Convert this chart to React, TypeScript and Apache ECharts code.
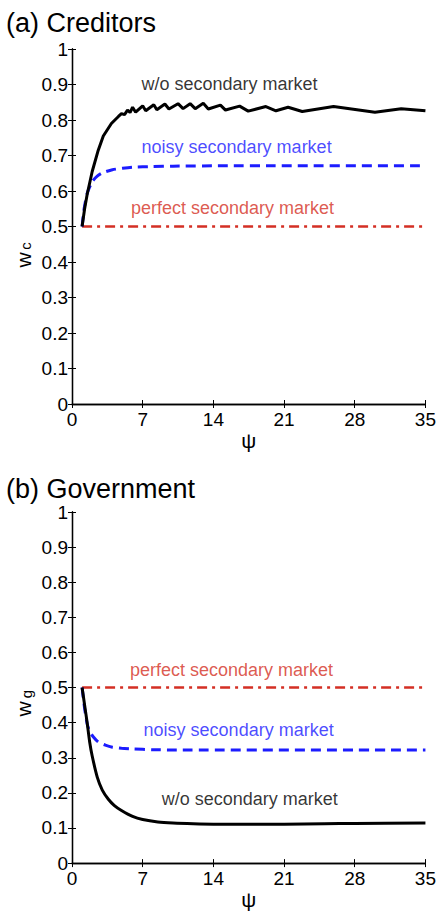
import React, { useEffect, useRef } from "react";
import * as echarts from "echarts";

// ---------- data ----------
const xTicks = [0, 7, 14, 21, 28, 35];

// Panel (a) Creditors
const credWithout: [number, number][] = [
  [1, 0.5], [1.25, 0.55], [1.5, 0.59], [2, 0.655], [2.6, 0.715], [3.1, 0.755],
  [3.9, 0.79], [4.6, 0.81], [4.9, 0.818], [5.2, 0.815], [5.5, 0.828], [5.75, 0.821],
  [6.0, 0.836], [6.3, 0.822], [7.0, 0.84], [7.3, 0.826], [8.1, 0.843], [8.4, 0.829],
  [9.2, 0.845], [9.6, 0.831], [10.5, 0.846], [11.0, 0.832], [11.7, 0.846], [12.2, 0.832],
  [13.0, 0.847], [13.5, 0.831], [14.7, 0.842], [15.2, 0.828], [16.6, 0.839], [17.45, 0.825],
  [19.2, 0.838], [20.2, 0.826], [21.4, 0.836], [22.8, 0.824], [25.9, 0.838], [30.0, 0.822],
  [32.6, 0.832], [35, 0.826],
];
const credNoisy: [number, number][] = [
  [1, 0.5], [1.2, 0.55], [1.5, 0.593], [2, 0.626], [2.5, 0.642], [3, 0.651], [4, 0.66],
  [5, 0.664], [6, 0.667], [8, 0.669], [10, 0.67], [15, 0.671], [20, 0.671], [35, 0.671],
];
const credPerfect: [number, number][] = [[1, 0.5], [35, 0.5]];

// Panel (b) Government
const govWithout: [number, number][] = [
  [1, 0.5], [1.25, 0.45], [1.5, 0.4], [1.75, 0.345], [2, 0.305], [2.5, 0.245], [3, 0.208],
  [3.6, 0.182], [4.2, 0.164], [4.9, 0.15], [6, 0.133], [7, 0.124], [8.5, 0.117],
  [10, 0.114], [12, 0.112], [14, 0.111], [17, 0.111], [21, 0.111], [25, 0.112],
  [28, 0.113], [35, 0.114],
];
const govNoisy: [number, number][] = [
  [1, 0.5], [1.25, 0.44], [1.5, 0.397], [1.75, 0.375], [2.1, 0.36], [2.6, 0.345],
  [3.3, 0.336], [4, 0.33], [4.9, 0.327], [6, 0.325], [8, 0.323], [10, 0.322], [35, 0.322],
];
const govPerfect: [number, number][] = [[1, 0.5], [35, 0.5]];

// annotations: [x, y, text]
const credNotes: [number, number, string][] = [
  [15.6, 0.901, "w/o secondary market"],
  [16.3, 0.724, "noisy secondary market"],
  [15.9, 0.552, "perfect secondary market"],
];
const govNotes: [number, number, string][] = [
  [15.8, 0.551, "perfect secondary market"],
  [16.5, 0.379, "noisy secondary market"],
  [17.6, 0.183, "w/o secondary market"],
];

const FONT = "'Liberation Sans', Arial, Helvetica, sans-serif";
const BLACK = "#000000";
const BLUE = "#1c1cff";
const RED = "#d42f24";

function axesFor(grid: number) {
  const tick = { show: true, inside: true, length: 4, lineStyle: { color: BLACK, width: 1 } };
  const line = { show: true, lineStyle: { color: BLACK, width: 1.3 } };
  const xs = [
    {
      type: "value", gridIndex: grid, position: "bottom", min: xTicks[0], max: xTicks[xTicks.length - 1], interval: 7,
      axisLine: line, axisTick: tick, splitLine: { show: false },
      axisLabel: { show: true, margin: 6, color: BLACK, fontSize: 19, fontFamily: FONT },
      name: "ψ", nameLocation: "middle", nameGap: 25,
      nameTextStyle: { color: BLACK, fontSize: 21, fontFamily: FONT },
    },
    {
      type: "value", gridIndex: grid, position: "top", min: xTicks[0], max: xTicks[xTicks.length - 1], interval: 7,
      axisLine: line, axisTick: tick, splitLine: { show: false }, axisLabel: { show: false },
    },
  ];
  const ys = [
    {
      type: "value", gridIndex: grid, position: "left", min: 0, max: 1, interval: 0.1,
      axisLine: line, axisTick: tick, splitLine: { show: false },
      axisLabel: {
        show: true, margin: 4, color: BLACK, fontSize: 19, fontFamily: FONT,
        formatter: (v: number) => String(Math.round(v * 10) / 10),
      },
    },
    {
      type: "value", gridIndex: grid, position: "right", min: 0, max: 1, interval: 0.1,
      axisLine: line, axisTick: tick, splitLine: { show: false }, axisLabel: { show: false },
    },
  ];
  return { xs, ys };
}

function lineSeries(data: [number, number][], ax: number, color: string, width: number, type: any, smooth: any = false) {
  return {
    type: "line", xAxisIndex: ax, yAxisIndex: ax, data, showSymbol: false, symbol: "none",
    smooth, lineStyle: { color, width, type }, z: 3,
  };
}

function noteSeries(notes: [number, number, string][], ax: number, colors: string[]) {
  return {
    type: "scatter", xAxisIndex: ax, yAxisIndex: ax, symbolSize: 0, silent: true,
    data: notes.map((n, i) => ({
      value: [n[0], n[1]],
      label: {
        show: true, position: "inside", formatter: n[2], color: colors[i],
        fontSize: 18, fontFamily: FONT,
      },
    })),
  };
}

export default function App() {
  const ref = useRef<HTMLDivElement>(null);
  useEffect(() => {
    if (!ref.current) return;
    const chart = echarts.init(ref.current, null, { renderer: "svg" });
    const a = axesFor(0);
    const b = axesFor(1);
    const option: any = {
      animation: false,
      backgroundColor: "#ffffff",
      grid: [
        { left: 72, top: 49, width: 357, height: 355, containLabel: false },
        { left: 72, top: 512, width: 357, height: 356, containLabel: false },
      ],
      xAxis: [...a.xs, ...b.xs],
      yAxis: [...a.ys, ...b.ys],
      series: [
        lineSeries(credPerfect, 0, RED, 2.5, [10, 5, 3, 5]),
        lineSeries(credNoisy, 0, BLUE, 3, [10, 6], 0.2),
        lineSeries(credWithout, 0, BLACK, 3, "solid"),
        noteSeries(credNotes, 0, [BLACK, BLUE, RED]),
        lineSeries(govPerfect, 2, RED, 2.5, [10, 5, 3, 5]),
        lineSeries(govNoisy, 2, BLUE, 3, [10, 6], 0.2),
        lineSeries(govWithout, 2, BLACK, 3, "solid", 0.3),
        noteSeries(govNotes, 2, [RED, BLUE, BLACK]),
      ],
      graphic: [
        { type: "text", left: 6, top: 9, style: { text: "(a) Creditors", fontSize: 27, fontFamily: FONT, fill: BLACK } },
        { type: "text", left: 6, top: 475, style: { text: "(b) Government", fontSize: 27, fontFamily: FONT, fill: BLACK } },
        { type: "text", x: 23, y: 260, rotation: Math.PI / 2, style: { text: "w", fontSize: 21, fontFamily: FONT, fill: BLACK, align: "center", verticalAlign: "middle" } },
        { type: "text", x: 25, y: 246, rotation: Math.PI / 2, style: { text: "c", fontSize: 15, fontFamily: FONT, fill: BLACK, align: "center", verticalAlign: "middle" } },
        { type: "text", x: 23, y: 709, rotation: Math.PI / 2, style: { text: "w", fontSize: 21, fontFamily: FONT, fill: BLACK, align: "center", verticalAlign: "middle" } },
        { type: "text", x: 26, y: 694, rotation: Math.PI / 2, style: { text: "g", fontSize: 15, fontFamily: FONT, fill: BLACK, align: "center", verticalAlign: "middle" } },
      ],
    };
    chart.setOption(option);
    return () => chart.dispose();
  }, []);
  return (
    <div
      ref={ref}
      style={{ position: "absolute", left: 0, top: 0, width: 439, height: 911, background: "#fff" }}
    />
  );
}
